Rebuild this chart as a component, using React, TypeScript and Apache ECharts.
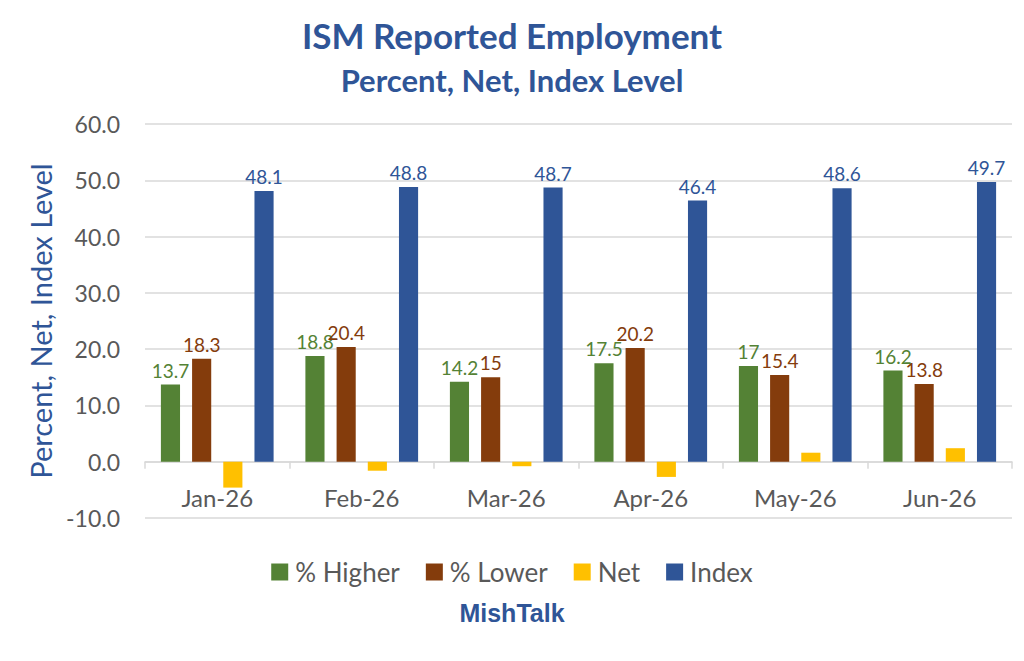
import React, { useEffect, useRef } from "react";
import * as echarts from "echarts";

const categories = ["Jan-26", "Feb-26", "Mar-26", "Apr-26", "May-26", "Jun-26"];
const higher = [13.7, 18.8, 14.2, 17.5, 17, 16.2];
const lower = [18.3, 20.4, 15, 20.2, 15.4, 13.8];
const net = [-4.6, -1.6, -0.8, -2.7, 1.6, 2.4];
const indexLevel = [48.1, 48.8, 48.7, 46.4, 48.6, 49.7];

const FONT = "Lato, 'Open Sans', sans-serif";
const BLUE = "#2F5597";
const GREEN = "#548235";
const BROWN = "#843C0C";
const YELLOW = "#FFC000";
const GRAY = "#595959";

export default function App() {
  const ref = useRef<HTMLDivElement>(null);
  useEffect(() => {
    if (!ref.current) return;
    const chart = echarts.init(ref.current, undefined, { renderer: "svg" });
    const labelFor = (color: string, show = true) => ({
      show,
      position: "top",
      distance: 5,
      color,
      fontSize: 19,
      fontFamily: FONT,
    });
    chart.setOption({
      animation: false,
      backgroundColor: "#ffffff",
      title: [
        {
          text: "ISM Reported Employment",
          left: "center",
          top: 12,
          textStyle: { fontSize: 35, fontWeight: "bold", color: BLUE, fontFamily: FONT },
        },
        {
          text: "Percent, Net, Index Level",
          left: "center",
          top: 59,
          textStyle: { fontSize: 31, fontWeight: "bold", color: BLUE, fontFamily: FONT },
        },
        {
          text: "MishTalk",
          left: "center",
          top: 595,
          textStyle: {
            fontSize: 25,
            fontWeight: "bold",
            color: BLUE,
            fontFamily: "'Liberation Sans', Arial, sans-serif",
          },
        },
      ],
      legend: {
        top: 554,
        left: "center",
        itemWidth: 17,
        itemHeight: 17,
        itemGap: 26,
        icon: "rect",
        textStyle: { fontSize: 26, color: GRAY, fontFamily: FONT, padding: [0, 0, 0, 2] },
        data: ["% Higher", "% Lower", "Net", "Index"],
      },
      grid: { left: 145, right: 12, top: 124, bottom: 143 },
      xAxis: {
        type: "category",
        data: categories,
        axisLine: { onZero: true, lineStyle: { color: "#D9D9D9", width: 1.5 } },
        axisTick: { show: true, interval: 0, length: 7, lineStyle: { color: "#D9D9D9", width: 1.5 } },
        axisLabel: { fontSize: 24, color: GRAY, margin: -33, fontFamily: FONT },
      },
      yAxis: {
        type: "value",
        min: -10,
        max: 60,
        interval: 10,
        name: "Percent, Net, Index Level",
        nameLocation: "middle",
        nameGap: 88,
        nameRotate: 90,
        nameTextStyle: { fontSize: 29, color: BLUE, fontFamily: FONT },
        axisLine: { show: false },
        axisTick: { show: false },
        axisLabel: {
          fontSize: 23,
          color: GRAY,
          margin: 25,
          fontFamily: FONT,
          formatter: (v: number) => v.toFixed(1),
        },
        splitLine: { lineStyle: { color: "#D9D9D9", width: 1.5 } },
      },
      series: [
        {
          name: "% Higher",
          type: "bar",
          data: higher,
          itemStyle: { color: GREEN },
          barGap: "63%",
          barCategoryGap: "22%",
          label: labelFor(GREEN),
        },
        { name: "% Lower", type: "bar", data: lower, itemStyle: { color: BROWN }, label: labelFor(BROWN) },
        { name: "Net", type: "bar", data: net, itemStyle: { color: YELLOW }, label: labelFor(YELLOW, false) },
        { name: "Index", type: "bar", data: indexLevel, itemStyle: { color: BLUE }, label: labelFor(BLUE) },
      ],
    });
    return () => chart.dispose();
  }, []);
  return (
    <div
      ref={ref}
      style={{ position: "fixed", left: 0, top: 0, width: 1024, height: 661, background: "#fff" }}
    />
  );
}
